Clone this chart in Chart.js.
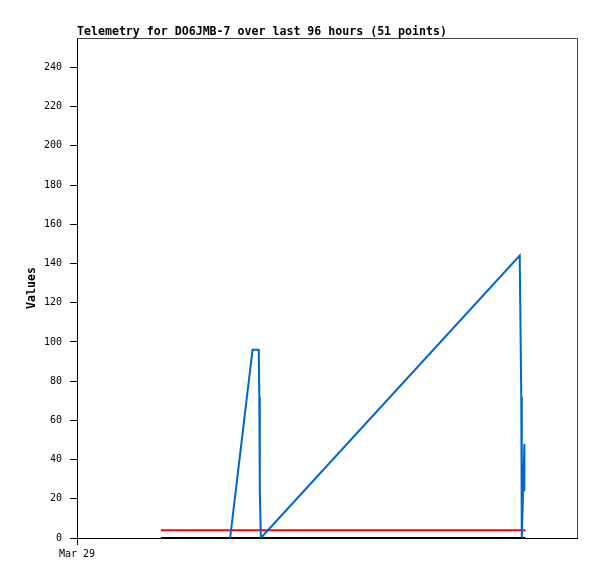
<!DOCTYPE html>
<html>
<head>
<meta charset="utf-8">
<title>Telemetry for DO6JMB-7</title>
<script src="https://cdn.jsdelivr.net/npm/chart.js@4.4.1/dist/chart.umd.min.js"></script>
<style>
  html, body { margin: 0; padding: 0; background: #fff; }
  #telemetry { display: block; }
</style>
</head>
<body>
<canvas id="telemetry" width="597" height="579"></canvas>
<script>
// x values are hours after Mar 29 00:00, axis spans 96 hours
var blueHours  = [29.4, 33.7, 34.9, 35.0, 35.1, 35.3, 85.0, 85.1, 85.3, 85.4, 85.9, 85.9];
var blueValues = [0, 96, 96, 72, 24, 0, 144, 120, 72, 0, 48, 24];

var redHours  = [16.1, 86.1];
var redValues = [4, 4];

var blackHours  = [16.1, 86.1];
var blackValues = [0, 0];

var yTicks = [0, 20, 40, 60, 80, 100, 120, 140, 160, 180, 200, 220, 240];
var xTickHours  = [0];
var xTickLabels = ['Mar 29'];

function toPoints(xs, ys) {
  return xs.map(function (x, i) { return { x: x, y: ys[i] }; });
}

var MONO = "'DejaVu Sans Mono', 'Liberation Mono', monospace";
Chart.defaults.font.family = MONO;
Chart.defaults.font.size = 10;
Chart.defaults.color = '#000';

// top/right edges of the plot frame
var framePlugin = {
  id: 'frame',
  beforeDatasetsDraw: function (chart) {
    var a = chart.chartArea, c = chart.ctx;
    c.save();
    c.strokeStyle = '#444';
    c.lineWidth = 1;
    c.beginPath();
    c.moveTo(a.left, a.top + 0.5);
    c.lineTo(a.right + 0.5, a.top + 0.5);
    c.lineTo(a.right + 0.5, a.bottom);
    c.stroke();
    c.restore();
  }
};

new Chart(document.getElementById('telemetry'), {
  type: 'line',
  data: {
    datasets: [
      { label: 'blue', data: toPoints(blueHours, blueValues), borderColor: '#0066cc', borderWidth: 2 },
      { label: 'red', data: toPoints(redHours, redValues), borderColor: '#ff0000', borderWidth: 2 },
      { label: 'black', data: toPoints(blackHours, blackValues), borderColor: '#000000', borderWidth: 2 }
    ]
  },
  options: {
    responsive: false,
    animation: false,
    parsing: false,
    elements: { point: { radius: 0 }, line: { tension: 0 } },
    layout: { padding: { top: 25, left: 0, right: 20, bottom: 0 } },
    plugins: {
      legend: { display: false },
      tooltip: { enabled: false },
      title: {
        display: true,
        text: 'Telemetry for DO6JMB-7 over last 96 hours (51 points)',
        align: 'start',
        fullSize: false,
        color: '#000',
        font: { family: MONO, size: 11.6, weight: 'bold', lineHeight: '13px' },
        padding: { top: 0, bottom: 0 }
      }
    },
    scales: {
      x: {
        type: 'linear',
        min: 0,
        max: 96,
        afterFit: function (s) { s.height = 41; },
        afterBuildTicks: function (s) {
          s.ticks = xTickHours.map(function (v) { return { value: v }; });
        },
        ticks: {
          maxRotation: 0,
          padding: 3,
          callback: function (v) {
            var i = xTickHours.indexOf(v);
            return i >= 0 ? xTickLabels[i] : '';
          }
        },
        grid: { drawOnChartArea: false, drawTicks: true, tickLength: 7, color: '#000' },
        border: { color: '#000' }
      },
      y: {
        min: 0,
        max: 255,
        afterFit: function (s) { s.width = 77; },
        afterBuildTicks: function (s) {
          s.ticks = yTicks.map(function (v) { return { value: v }; });
        },
        ticks: { padding: 8 },
        grid: { drawOnChartArea: false, drawTicks: true, tickLength: 7, color: '#000' },
        border: { color: '#000' },
        title: {
          display: true,
          text: 'Values',
          color: '#000',
          font: { family: MONO, size: 11.6, weight: 'bold', lineHeight: '13px' },
          padding: { top: 25, bottom: 0 }
        }
      }
    }
  },
  plugins: [framePlugin]
});
</script>
</body>
</html>
